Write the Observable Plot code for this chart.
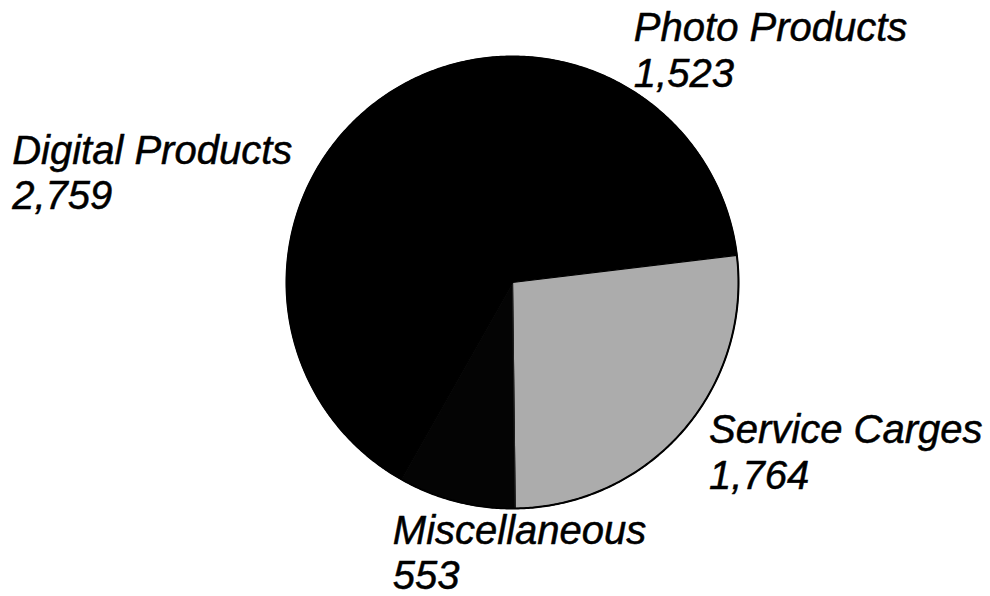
<!DOCTYPE html>
<html>
<head>
<meta charset="utf-8">
<script src="https://cdn.jsdelivr.net/npm/d3@7"></script>
<script src="https://cdn.jsdelivr.net/npm/@observablehq/plot@0.6"></script>
<style>
  html, body { margin: 0; padding: 0; background: #fff; }
  #chart { width: 990px; height: 596px; }
</style>
</head>
<body>
<div id="chart"></div>
<script>
// ---- Data ----
const categories = ["Photo Products", "Service Carges", "Miscellaneous", "Digital Products"];
const values = [1523, 1764, 553, 2759];
const valueLabels = ["1,523", "1,764", "553", "2,759"];

// ---- Styling / layout (not data) ----
const sliceFills = ["#000000", "#acacac", "#040404", "#000000"];
const W = 990, H = 596;
const cx = 512, cy = 282, Rpx = 226;   // pie centre/radius in pixels
const labelRadius = 1.15;
const labelLayout = {
  "Photo Products":   {dx: -51,  dy: -79},
  "Service Carges":   {dx: 1,    dy: -43},
  "Miscellaneous":    {dx: -55,  dy: -23},
  "Digital Products": {dx: -249, dy: -85}
};

const rows = categories.map((c, i) => ({category: c, value: values[i], label: valueLabels[i], fill: sliceFills[i]}));
const arcs = d3.pie().sort(null).value(d => d.value)(rows);

// polygon points for each slice (unit circle coordinates, y up, angle clockwise from 12 o'clock)
function slicePoints(a) {
  const pts = [{x: 0, y: 0}];
  const n = Math.max(2, Math.ceil((a.endAngle - a.startAngle) / (Math.PI / 360)));
  for (let k = 0; k <= n; k++) {
    const t = a.startAngle + (a.endAngle - a.startAngle) * k / n;
    pts.push({x: Math.sin(t), y: Math.cos(t)});
  }
  return pts;
}

const sliceMarks = arcs.map(a =>
  Plot.line(slicePoints(a), {
    x: "x", y: "y", curve: "linear-closed",
    fill: a.data.fill,
    stroke: a.data.category === "Miscellaneous" ? "#1e1e1e" : "#000",
    strokeWidth: 1.2
  })
);

// outline circle
const outlinePts = d3.range(0, 721).map(k => ({x: Math.sin(k * Math.PI / 360), y: Math.cos(k * Math.PI / 360)}));

const labelMarks = arcs.map(a => {
  const mid = (a.startAngle + a.endAngle) / 2;
  const L = labelLayout[a.data.category];
  return Plot.text([{x: labelRadius * Math.sin(mid), y: labelRadius * Math.cos(mid), text: a.data.category + "\n" + a.data.label}], {
    x: "x", y: "y", text: "text",
    textAnchor: "start", lineAnchor: "top", lineHeight: 1.14,
    dx: L.dx, dy: L.dy,
    fontSize: 40, fontStyle: "italic",
    fontFamily: "'Liberation Sans', Arial, Helvetica, sans-serif",
    fill: "#000", stroke: "#000", strokeWidth: 0.5
  });
});

const chart = Plot.plot({
  width: W, height: H,
  margin: 0,
  x: {domain: [-cx / Rpx, (W - cx) / Rpx], axis: null},
  y: {domain: [-(H - cy) / Rpx, cy / Rpx], axis: null},
  style: {background: "#fff", overflow: "visible"},
  marks: [
    ...sliceMarks,
    Plot.line(outlinePts, {x: "x", y: "y", stroke: "#000", strokeWidth: 2}),
    ...labelMarks
  ]
});
document.getElementById("chart").appendChild(chart);
</script>
</body>
</html>
